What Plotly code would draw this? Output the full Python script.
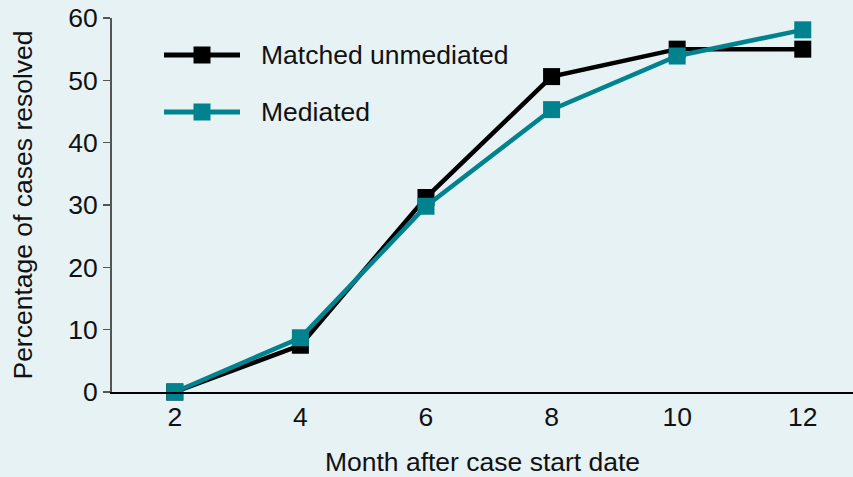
import plotly.graph_objects as go

months = [2, 4, 6, 8, 10, 12]
unmediated = [0, 7.5, 31.2, 50.6, 55.0, 55.0]
mediated = [0, 8.7, 29.8, 45.3, 53.9, 58.1]
series_names = ["Matched unmediated", "Mediated"]
colors = ["#000000", "#00838f"]
x_ticks = [2, 4, 6, 8, 10, 12]
y_ticks = [0, 10, 20, 30, 40, 50, 60]

W, H = 853, 477
ML, MR, MT, MB = 112, 0, 18, 85
pw, ph = W - ML - MR, H - MT - MB
FONT = "Liberation Sans, Arial, Helvetica, sans-serif"
FS = 26.5

fig = go.Figure()
for name, vals, c in zip(series_names, [unmediated, mediated], colors):
    fig.add_trace(go.Scatter(
        x=months, y=vals, name=name, mode="lines+markers",
        line=dict(color=c, width=4.5),
        marker=dict(symbol="square", size=17, color=c),
        cliponaxis=False, showlegend=False, hoverinfo="skip",
    ))

def px_x(p):
    return (p - ML) / pw

def px_y(p):
    return 1 - (p - MT) / ph

shapes = []
annotations = []
for i, (name, c) in enumerate(zip(series_names, colors)):
    yy = px_y(55 + i * 57)
    shapes.append(dict(type="line", xref="paper", yref="paper",
                       x0=px_x(164), x1=px_x(240), y0=yy, y1=yy,
                       line=dict(color=c, width=5)))
    shapes.append(dict(type="rect", xref="paper", yref="paper",
                       xsizemode="pixel", ysizemode="pixel",
                       xanchor=px_x(202), yanchor=yy,
                       x0=-8.5, x1=8.5, y0=-8.5, y1=8.5,
                       fillcolor=c, line=dict(width=0)))
    annotations.append(dict(text=name, xref="paper", yref="paper",
                            x=px_x(259), y=yy, xanchor="left", yanchor="middle",
                            showarrow=False,
                            font=dict(size=FS, color="#111111", family=FONT)))

fig.update_layout(
    width=W, height=H,
    margin=dict(l=ML, r=MR, t=MT, b=MB),
    paper_bgcolor="#e7f2f4", plot_bgcolor="#e7f2f4",
    font=dict(family=FONT, size=FS, color="#111111"),
    shapes=shapes, annotations=annotations,
    xaxis=dict(
        range=[1.0, 12.8], tickvals=x_ticks, ticktext=[str(v) for v in x_ticks],
        showgrid=False, zeroline=False, showline=True, linecolor="#000000", linewidth=2,
        ticks="", automargin=False,
        title=dict(text="Month after case start date", standoff=31,
                   font=dict(size=FS)),
        tickfont=dict(size=FS),
    ),
    yaxis=dict(
        range=[0, 60], tickvals=y_ticks, ticktext=[str(v) for v in y_ticks],
        showgrid=False, zeroline=False, showline=True, linecolor="#555555", linewidth=2,
        ticks="outside", ticklen=7, tickwidth=1.5, tickcolor="#555555",
        automargin=False,
        title=dict(text="Percentage of cases resolved", standoff=28,
                   font=dict(size=FS)),
        tickfont=dict(size=FS),
    ),
)

fig.write_html("out.html", config={"displayModeBar": False, "staticPlot": True})

# remove default page margin so the figure fills the window exactly
with open("out.html", "r", encoding="utf-8") as f:
    html = f.read()
html = html.replace("<body>", '<body style="margin:0;padding:0;overflow:hidden;background:#e7f2f4">', 1)
with open("out.html", "w", encoding="utf-8") as f:
    f.write(html)
